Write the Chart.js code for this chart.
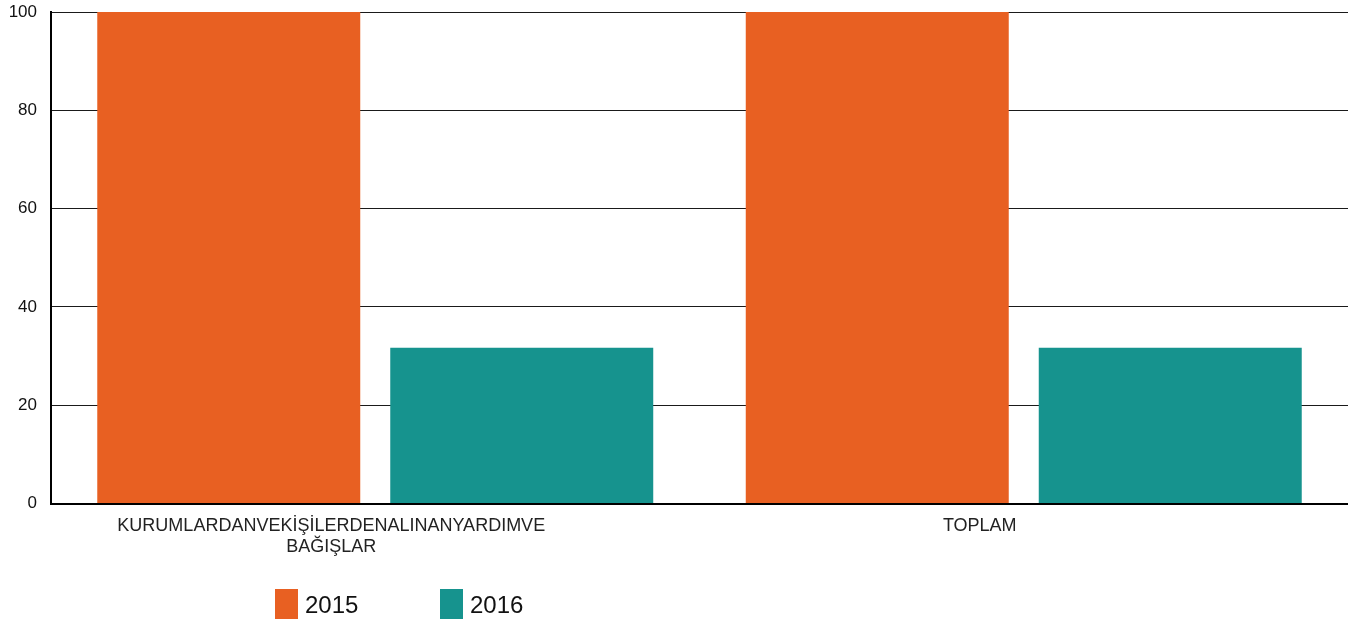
<!DOCTYPE html>
<html>
<head>
<meta charset="utf-8">
<script src="https://cdn.jsdelivr.net/npm/chart.js@4"></script>
<style>
  html, body { margin: 0; padding: 0; background: #fff; }
  #wrap { position: relative; width: 1348px; height: 620px; }
  #wrap canvas { display: block; }
  .legend-item { position: absolute; top: 589px; height: 30px; font-family: 'Liberation Sans', Arial, sans-serif; font-size: 24px; color: #111; line-height: 32px; }
  .legend-item span { display: inline-block; width: 23px; height: 30px; vertical-align: top; margin-right: 7px; }
</style>
</head>
<body>
<div id="wrap">
  <canvas id="chart" width="1348" height="620"></canvas>
  <div id="legend"></div>
</div>
<script>
document.addEventListener('DOMContentLoaded', function() {
    const categories = [['KURUMLARDANVEKİŞİLERDENALINANYARDIMVE', 'BAĞIŞLAR'], 'TOPLAM'];
    const values2015 = [100, 100];
    const values2016 = [31.7, 31.7];
    const seriesNames = ['2015', '2016'];
    const yTicks = [0, 20, 40, 60, 80, 100];

    const orange = 'rgb(232, 96, 34)';
    const teal = 'rgb(22, 147, 142)';

    const ctx = document.getElementById('chart').getContext('2d');
    new Chart(ctx, {
        type: 'bar',
        data: {
            labels: categories,
            datasets: [
                { label: seriesNames[0], data: values2015, backgroundColor: orange },
                { label: seriesNames[1], data: values2016, backgroundColor: teal }
            ]
        },
        options: {
            responsive: false,
            animation: false,
            categoryPercentage: 0.9036,
            barPercentage: 0.8976,
            layout: { padding: { top: 12, right: 0, bottom: 51, left: 0 } },
            plugins: {
                legend: { display: false },
                tooltip: { enabled: false }
            },
            scales: {
                x: {
                    grid: { display: false, drawTicks: false },
                    border: { color: '#000', width: 2 },
                    ticks: {
                        color: '#222',
                        padding: 12,
                        labelOffset: -44,
                        maxRotation: 0,
                        autoSkip: false,
                        font: { family: "'Liberation Sans', Arial, sans-serif", size: 18, lineHeight: 1.15 }
                    }
                },
                y: {
                    min: yTicks[0],
                    max: yTicks[yTicks.length - 1],
                    afterBuildTicks: function(axis) {
                        axis.ticks = yTicks.map(v => ({ value: v }));
                    },
                    afterFit: function(axis) {
                        axis.width = 51;
                        axis.paddingTop = 0;
                        axis.paddingBottom = 0;
                    },
                    grid: { color: '#1a1a1a', lineWidth: 1, drawTicks: false },
                    border: { color: '#000', width: 2 },
                    ticks: {
                        color: '#111',
                        padding: 14,
                        font: { family: "'Liberation Sans', Arial, sans-serif", size: 17 }
                    }
                }
            }
        }
    });

    // legend drawn as html under the chart
    const legend = document.getElementById('legend');
    const legendX = [275, 440];
    const colors = [orange, teal];
    seriesNames.forEach(function(name, i) {
        const item = document.createElement('div');
        item.className = 'legend-item';
        item.style.left = legendX[i] + 'px';
        item.innerHTML = '<span style="background:' + colors[i] + '"></span>' + name;
        legend.appendChild(item);
    });
});
</script>
</body>
</html>
